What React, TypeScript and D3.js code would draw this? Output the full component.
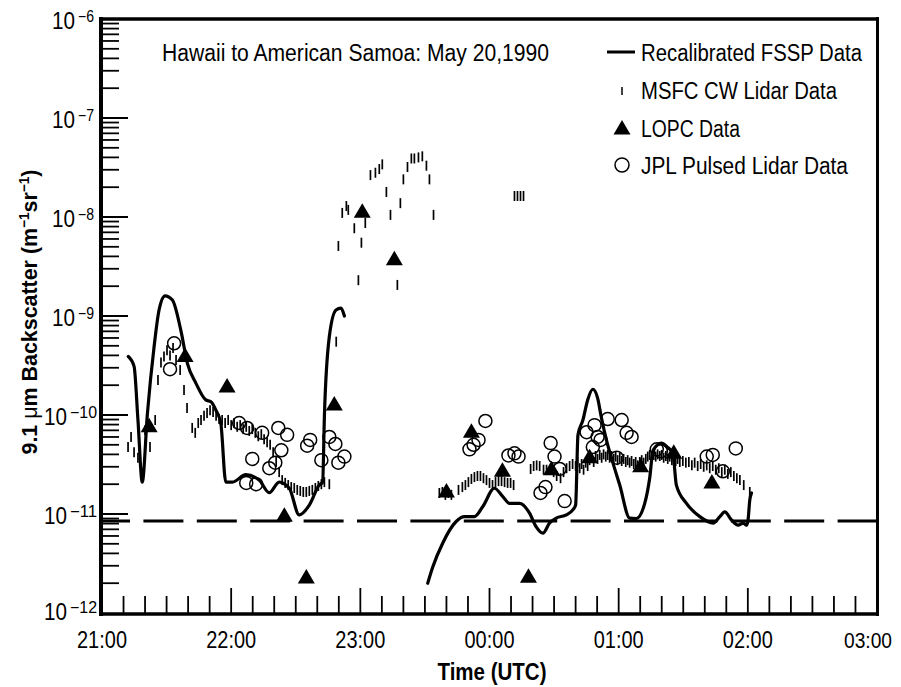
import React from 'react';
import * as d3 from 'd3';

// Time axis: minutes after 21:00 UTC; values: 9.1 um backscatter (m^-1 sr^-1)
const HOUR_LABELS = ['21:00', '22:00', '23:00', '00:00', '01:00', '02:00', '03:00'];
const DECADES = [-12, -11, -10, -9, -8, -7, -6];
const TITLE = 'Hawaii to American Samoa: May 20,1990';
const LEGEND_LABELS = ['Recalibrated FSSP Data', 'MSFC CW Lidar Data', 'LOPC Data', 'JPL Pulsed Lidar Data'];
const THRESHOLD = 8.5e-12;

const fsspSeg1: [number, number][] = [
  [12.2, 3.9e-10], [14.9, 3.1e-10], [16.7, 8.9e-11], [18.7, 2.1e-11], [21.1, 1.04e-10],
  [24.2, 4.9e-10], [26.5, 1.15e-9], [29.3, 1.6e-9], [32.7, 1.45e-9], [36.6, 7.2e-10],
  [39.7, 3.3e-10], [43.6, 2.1e-10], [48.2, 1.42e-10], [50.6, 1.36e-10], [52.9, 1.12e-10],
  [55.2, 8.2e-11], [57.5, 2.1e-11], [60.6, 2.1e-11], [66.8, 2.5e-11], [73.0, 2.2e-11],
  [77.7, 1.64e-11], [82.3, 2.1e-11], [87.0, 1.82e-11], [91.6, 9.8e-12], [96.3, 1.23e-11],
  [100.9, 1.96e-11], [102.5, 2.1e-11], [103.3, 9.6e-11], [105.6, 6.2e-10], [108.7, 1.15e-9],
  [111.0, 1.2e-9], [112.6, 1.0e-9],
];

const fsspSeg2: [number, number][] = [
  [151.3, 2.0e-12], [153.6, 2.9e-12], [158.3, 5.1e-12], [164.5, 8.4e-12], [168.4, 9.4e-12],
  [173.0, 9.4e-12], [176.9, 1.19e-11], [182.3, 1.82e-11], [186.2, 1.5e-11], [189.3, 1.28e-11],
  [194.0, 1.28e-11], [198.6, 1.02e-11], [201.7, 7.4e-12], [204.8, 6.4e-12], [207.9, 8.1e-12],
  [211.0, 9.1e-12], [215.7, 9.8e-12], [218.7, 1.1e-11], [220.0, 1.23e-11], [221.1, 6.3e-11],
  [223.4, 8.9e-11], [225.6, 1.42e-10], [228.0, 1.82e-10], [230.2, 1.49e-10], [231.9, 9.6e-11],
  [234.3, 5.6e-11], [237.3, 3.3e-11], [240.5, 1.96e-11], [245.1, 9.1e-12], [248.2, 9.0e-12],
  [252.1, 1.28e-11], [254.4, 2.3e-11], [256.0, 4.4e-11], [259.9, 5.2e-11], [262.5, 4.75e-11],
  [265.2, 4.1e-11], [266.8, 1.96e-11], [271.5, 1.28e-11], [277.7, 9.4e-12], [283.9, 8.1e-12],
  [287.0, 9.4e-12], [289.3, 1.05e-11], [292.4, 8.7e-12], [295.5, 7.7e-12], [297.8, 8.1e-12],
  [299.4, 7.7e-12], [300.1, 8.7e-12], [300.9, 1.38e-11], [301.7, 1.63e-11],
];

const msfc: [number, number][] = [
  [12.1, 4.75e-11], [13.5, 6.0e-11], [14.9, 4.2e-11], [16.7, 3.7e-11], [20.0, 7.0e-11], [22.3, 4.75e-11], [24.7, 8.9e-11],
  [26.0, 2.26e-10], [27.4, 3.4e-10], [28.8, 3.9e-10], [30.2, 4.5e-10], [31.6, 4.0e-10], [33.0, 4.75e-10], [34.4, 3.6e-10],
  [36.3, 2.85e-10], [38.1, 1.79e-10], [39.5, 1.18e-10], [41.9, 7.4e-11], [43.3, 6.6e-11], [44.7, 8.3e-11], [46.0, 8.9e-11],
  [47.4, 9.8e-11], [48.8, 1.05e-10], [50.2, 1.12e-10], [51.6, 1.07e-10], [53.0, 9.8e-11], [54.4, 9.1e-11],
  [55.8, 8.9e-11], [57.2, 8.3e-11], [58.6, 8.9e-11], [60.0, 7.9e-11], [61.4, 8.3e-11], [62.8, 7.6e-11], [64.2, 7.9e-11],
  [65.6, 7.2e-11], [67.0, 7.6e-11], [68.4, 6.9e-11], [69.8, 7.2e-11], [71.2, 6.6e-11], [72.6, 6.1e-11], [74.0, 6.4e-11],
  [75.3, 5.7e-11], [76.7, 5.3e-11], [78.1, 5.0e-11], [79.5, 4.2e-11], [80.9, 3.35e-11], [82.3, 2.65e-11],
  [83.7, 2.2e-11], [85.1, 2.06e-11], [86.5, 1.96e-11], [87.9, 1.87e-11], [89.3, 1.83e-11], [90.7, 1.75e-11], [92.1, 1.71e-11],
  [93.5, 1.67e-11], [94.9, 1.67e-11], [96.3, 1.71e-11], [97.7, 1.75e-11], [99.1, 1.83e-11], [100.5, 1.92e-11], [101.9, 2.0e-11],
  [103.3, 2.1e-11], [105.6, 2.0e-11],
  [108.8, 5.5e-10], [109.8, 5.1e-9], [111.6, 1.1e-8], [113.5, 1.29e-8], [114.4, 1.18e-8], [117.2, 7.7e-9], [119.1, 2.3e-9],
  [120.5, 5.5e-9], [122.3, 8.7e-9], [124.7, 2.65e-8], [127.0, 2.8e-8], [128.8, 3.05e-8], [130.2, 3.4e-8], [132.1, 1.79e-8],
  [134.0, 1.05e-8], [137.2, 2.06e-9], [138.6, 1.38e-8], [140.0, 2.4e-8], [141.9, 3.2e-8], [143.7, 3.9e-8], [145.1, 3.9e-8],
  [147.0, 4.0e-8], [148.8, 4.1e-8], [150.7, 3.3e-8], [152.1, 2.4e-8], [154.0, 1.05e-8],
  [191.6, 1.63e-8], [193.0, 1.63e-8], [194.4, 1.63e-8], [195.8, 1.63e-8],
  [156.7, 1.63e-11], [158.1, 1.67e-11], [159.5, 1.56e-11], [160.9, 1.63e-11], [162.3, 1.56e-11], [165.6, 1.75e-11],
  [167.4, 1.87e-11], [168.8, 1.96e-11], [170.2, 2.1e-11], [171.6, 2.26e-11], [173.0, 2.36e-11], [174.4, 2.42e-11],
  [175.8, 2.42e-11], [177.2, 2.3e-11], [178.6, 2.2e-11], [180.0, 2.06e-11], [181.4, 1.96e-11], [182.8, 2.1e-11],
  [184.2, 2.15e-11], [185.6, 2.15e-11], [187.0, 2.1e-11], [188.4, 2.06e-11], [189.8, 2.06e-11], [191.2, 1.96e-11],
  [199.1, 2.85e-11], [200.5, 3.05e-11], [201.9, 3.1e-11], [203.3, 3.05e-11], [205.1, 2.8e-11], [206.5, 2.8e-11],
  [208.4, 2.9e-11], [209.8, 2.65e-11], [211.2, 2.42e-11], [213.0, 2.3e-11], [214.4, 2.65e-11], [215.8, 2.9e-11],
  [217.2, 3.05e-11], [218.6, 3.2e-11],
  [220.0, 3.05e-11], [220.9, 3.35e-11], [221.9, 2.9e-11], [222.8, 3.2e-11], [223.7, 2.8e-11], [224.7, 3.3e-11],
  [225.6, 3.05e-11], [226.5, 3.5e-11], [227.4, 3.7e-11], [228.4, 3.35e-11], [229.3, 3.85e-11], [230.2, 3.6e-11],
  [231.2, 3.95e-11], [232.1, 3.7e-11], [233.0, 4.0e-11], [234.0, 3.8e-11], [234.9, 3.95e-11], [235.8, 3.7e-11],
  [236.7, 3.85e-11], [237.7, 3.6e-11], [238.6, 3.8e-11], [239.5, 3.5e-11], [240.5, 3.7e-11], [241.4, 3.43e-11],
  [242.3, 3.6e-11], [243.3, 3.35e-11], [244.2, 3.5e-11], [245.1, 3.3e-11], [246.0, 3.43e-11], [247.0, 3.2e-11],
  [247.9, 3.35e-11], [248.8, 3.1e-11], [249.8, 3.35e-11], [250.7, 3.5e-11], [251.6, 3.3e-11], [252.6, 3.6e-11],
  [253.5, 3.8e-11], [254.4, 3.95e-11], [255.3, 3.7e-11], [256.3, 3.95e-11], [257.2, 3.8e-11], [258.1, 4.0e-11],
  [259.1, 3.85e-11], [260.0, 3.95e-11], [260.9, 3.7e-11], [261.9, 3.85e-11], [262.8, 3.6e-11], [263.7, 3.8e-11],
  [264.7, 3.5e-11], [265.6, 3.7e-11], [266.5, 3.43e-11], [267.4, 3.6e-11], [268.4, 3.35e-11], [269.8, 3.43e-11],
  [271.2, 3.3e-11], [272.6, 3.35e-11], [274.0, 3.1e-11], [275.3, 3.3e-11], [276.7, 3.05e-11], [278.1, 3.2e-11],
  [279.5, 3.0e-11], [280.9, 3.1e-11], [282.3, 2.9e-11], [283.7, 3.05e-11], [285.1, 2.8e-11], [286.5, 2.9e-11],
  [287.9, 2.65e-11], [289.3, 2.8e-11], [290.7, 2.54e-11], [292.1, 2.65e-11], [293.5, 2.42e-11], [294.9, 2.3e-11],
  [296.3, 2.2e-11], [298.1, 1.96e-11], [300.9, 1.67e-11],
];

const lopc: [number, number][] = [
  [21.9, 7.6e-11], [38.6, 3.9e-10], [58.1, 1.92e-10], [84.7, 9.5e-12], [94.9, 2.26e-12], [107.9, 1.26e-10],
  [120.9, 1.12e-8], [135.8, 3.7e-9], [160.0, 1.67e-11], [171.6, 6.7e-11], [186.0, 2.7e-11], [198.1, 2.3e-12],
  [208.8, 2.8e-11], [226.5, 3.7e-11], [250.2, 3.0e-11], [265.6, 4.1e-11], [283.3, 2.06e-11],
];

const jpl: [number, number][] = [
  [31.6, 2.9e-10], [33.5, 5.3e-10], [63.7, 8.3e-11], [67.0, 2.06e-11], [67.4, 7.4e-11], [69.8, 3.6e-11],
  [71.6, 2.0e-11], [74.4, 6.6e-11], [77.7, 2.9e-11], [80.5, 3.3e-11], [81.9, 7.4e-11], [83.3, 4.4e-11],
  [86.0, 6.3e-11], [95.3, 4.9e-11], [96.7, 5.6e-11], [101.9, 3.5e-11], [105.6, 6.0e-11], [108.4, 5.1e-11],
  [109.8, 3.3e-11], [112.6, 3.8e-11],
  [170.7, 4.5e-11], [172.6, 5.0e-11], [174.9, 5.6e-11], [178.1, 8.7e-11], [188.8, 3.9e-11], [191.6, 4.1e-11],
  [193.5, 3.8e-11], [203.7, 1.63e-11], [206.0, 1.87e-11], [208.4, 5.2e-11], [210.2, 3.8e-11], [212.6, 2.85e-11],
  [214.9, 1.35e-11], [225.1, 6.7e-11], [228.0, 4.75e-11], [228.8, 7.9e-11], [230.2, 6.0e-11], [231.6, 5.6e-11],
  [234.9, 9.1e-11], [239.1, 3.7e-11], [241.4, 8.9e-11], [243.7, 6.6e-11], [246.0, 6.0e-11], [257.7, 4.5e-11],
  [259.6, 4.3e-11], [280.9, 3.8e-11], [283.7, 3.95e-11], [288.4, 2.7e-11], [294.4, 4.6e-11],
];

const FONT = "'Liberation Sans Narrow', 'Liberation Sans', Arial, sans-serif";
const W = 901;
const H = 687;
const TRI = 'M0,-9L8.5,5.5L-8.5,5.5Z';

export default function App() {
  const x = d3.scaleLinear().domain([0, 360]).range([102, 877]);
  const y = d3.scaleLog().domain([1e-12, 1e-6]).range([613, 19]);
  const line = d3
    .line<[number, number]>()
    .x((d) => x(d[0]))
    .y((d) => y(d[1]))
    .curve(d3.curveMonotoneX);

  const minorY: number[] = [];
  DECADES.slice(0, -1).forEach((d) => {
    for (let k = 2; k <= 9; k++) minorY.push(k * Math.pow(10, d));
  });
  const xTicks = d3.range(10, 360, 10);

  return (
    <svg width={W} height={H} style={{ position: 'absolute', left: 0, top: 0, background: '#fff' }} fontFamily={FONT}>
      <rect x={0} y={0} width={W} height={H} fill="#fff" />
      {/* y ticks */}
      {minorY.map((v, i) => (
        <line key={'ym' + i} x1={103} x2={119} y1={y(v)} y2={y(v)} stroke="#000" strokeWidth={1.8} />
      ))}
      {DECADES.slice(1, -1).map((d) => (
        <line key={'yM' + d} x1={103} x2={128} y1={y(Math.pow(10, d))} y2={y(Math.pow(10, d))} stroke="#000" strokeWidth={2} />
      ))}
      {/* x ticks */}
      {xTicks.map((t) => (
        <line key={'xt' + t} x1={x(t)} x2={x(t)} y1={613} y2={t % 60 === 0 ? 588 : 596} stroke="#000" strokeWidth={1.8} />
      ))}
      {/* frame */}
      <line x1={101} x2={101} y1={17} y2={616} stroke="#000" strokeWidth={4} />
      <line x1={99} x2={879} y1={614} y2={614} stroke="#000" strokeWidth={3.5} />
      <line x1={99} x2={879} y1={19} y2={19} stroke="#000" strokeWidth={3.5} />
      <line x1={877.5} x2={877.5} y1={17} y2={616} stroke="#000" strokeWidth={3} />

      {/* y tick labels */}
      {DECADES.map((d) => {
        const ty = y(Math.pow(10, d));
        const sup = '\u2212' + String(-d);
        const twoDigit = sup.length > 2;
        const supStart = twoDigit ? 70 : 78;
        const supLen = twoDigit ? 27 : 16;
        const base = d === -12 ? ty + 7 : ty + 10;
        return (
          <g key={'yl' + d}>
            <text x={supStart - 26} y={base} fontSize={24} textLength={23} lengthAdjust="spacingAndGlyphs">10</text>
            <text x={supStart} y={base - 7} fontSize={16} textLength={supLen} lengthAdjust="spacingAndGlyphs">{sup}</text>
          </g>
        );
      })}
      {/* x tick labels */}
      {HOUR_LABELS.map((lab, i) => {
        const last = i === HOUR_LABELS.length - 1;
        return (
          <text key={lab} x={last ? 868 : x(i * 60)} y={648} fontSize={last ? 22 : 24} textAnchor="middle" textLength={last ? 48 : 50} lengthAdjust="spacingAndGlyphs">{lab}</text>
        );
      })}
      <text x={492} y={680} fontSize={23} fontWeight="bold" textAnchor="middle" textLength={109} lengthAdjust="spacingAndGlyphs">Time (UTC)</text>
      <text transform="translate(37,312) rotate(-90)" fontSize={22} fontWeight="bold" textAnchor="middle" textLength={285} lengthAdjust="spacingAndGlyphs">
        {'9.1 '}<tspan fontWeight="normal">{'\u03bc'}</tspan>{'m Backscatter (m'}<tspan fontSize={14} dy={-8}>{'\u22121'}</tspan><tspan dy={8}>sr</tspan><tspan fontSize={14} dy={-8}>{'\u22121'}</tspan><tspan dy={8}>)</tspan>
      </text>

      {/* threshold */}
      <line x1={103} x2={876} y1={y(THRESHOLD)} y2={y(THRESHOLD)} stroke="#000" strokeWidth={3} strokeDasharray="40 13.4" strokeDashoffset={13} />
      {/* FSSP */}
      <path d={line(fsspSeg1) || ''} fill="none" stroke="#000" strokeWidth={3.2} strokeLinejoin="round" strokeLinecap="round" />
      <path d={line(fsspSeg2) || ''} fill="none" stroke="#000" strokeWidth={3.2} strokeLinejoin="round" strokeLinecap="round" />
      {/* MSFC ticks */}
      {msfc.map((d, i) => (
        <line key={'m' + i} x1={x(d[0])} x2={x(d[0])} y1={y(d[1]) - 5} y2={y(d[1]) + 5} stroke="#000" strokeWidth={1.7} />
      ))}
      {/* LOPC */}
      {lopc.map((d, i) => (
        <path key={'l' + i} d={TRI} transform={`translate(${x(d[0])},${y(d[1])})`} fill="#000" />
      ))}
      {/* JPL */}
      {jpl.map((d, i) => (
        <circle key={'j' + i} cx={x(d[0])} cy={y(d[1])} r={6.5} fill="none" stroke="#000" strokeWidth={1.5} />
      ))}

      {/* title */}
      <text x={162} y={61} fontSize={23} textLength={387} lengthAdjust="spacingAndGlyphs">{TITLE}</text>
      {/* legend */}
      <line x1={607} x2={635} y1={52} y2={52} stroke="#000" strokeWidth={3} />
      <line x1={622} x2={622} y1={87} y2={95} stroke="#000" strokeWidth={1.5} />
      <path d={TRI} transform="translate(622,129)" fill="#000" />
      <circle cx={622} cy={165} r={7} fill="none" stroke="#000" strokeWidth={1.5} />
      {LEGEND_LABELS.map((lab, i) => (
        <text key={lab} x={641} y={[61, 99, 137, 174][i]} fontSize={23} textLength={[221, 196, 99, 207][i]} lengthAdjust="spacingAndGlyphs">{lab}</text>
      ))}
    </svg>
  );
}
